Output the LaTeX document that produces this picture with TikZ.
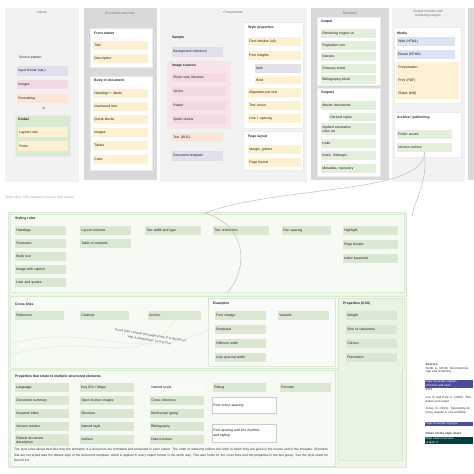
\documentclass[tikz,border=0pt]{standalone}
\usepackage{fontspec}
\setmainfont{Liberation Sans}
\usepackage{tikz}

\definecolor{panelLight}{HTML}{F2F2F2}
\definecolor{panelDark}{HTML}{D9D9D9}
\definecolor{itemYellow}{HTML}{FDF1D2}
\definecolor{itemPink}{HTML}{F3D9E3}
\definecolor{itemLav}{HTML}{E2E0EF}
\definecolor{itemPeach}{HTML}{FCE6D8}
\definecolor{itemGreen}{HTML}{E2EFDA}
\definecolor{itemBlue}{HTML}{DAE4F3}
\definecolor{groupGreen}{HTML}{D9EAD3}
\definecolor{bgGreen}{HTML}{EEF6EA}
\definecolor{boxGreen}{HTML}{DAE8D3}
\newcommand{\boxfont}{\fontsize{3.4}{4.1}\selectfont}

\begin{document}
\begin{tikzpicture}[x=1pt, y=-1pt,
    itm/.style={anchor=north west, inner sep=1.2pt, minimum height=9pt, text width=#1, align=left, font=\boxfont, text=black!90},
    yb/.style={itm=#1, fill=itemYellow}, yb/.default=48pt,
    pk/.style={itm=#1, fill=itemPink}, pk/.default=48pt,
    lv/.style={itm=#1, fill=itemLav, draw=black!12, line width=0.3pt}, lv/.default=48pt,
    pc/.style={itm=#1, fill=itemPeach}, pc/.default=48pt,
    gr/.style={itm=#1, fill=itemGreen}, gr/.default=52pt,
    bl/.style={itm=#1, fill=itemBlue}, bl/.default=55pt,
    gb/.style={itm=#1, fill=boxGreen}, gb/.default=48pt,
    wb/.style={itm=#1, fill=white, draw=black!20, line width=0.3pt}, wb/.default=62pt,
    grp/.style={fill=white, draw=black!8, line width=0.3pt},
    ttl/.style={anchor=west, inner sep=0pt, font=\boxfont\bfseries, text=black!85},
    hdr/.style={inner sep=0pt, font=\boxfont, text=black!55, align=center},
    curve/.style={draw=black!25, line width=0.5pt},
    ref/.style={anchor=north west, inner sep=0.5pt, text width=47pt, align=left, font=\fontsize{3}{3.6}\selectfont, text=black!80},
    link/.style={ref, fill=blue!45!black!70, text=white}]
  \useasboundingbox (0,0) rectangle (474,474);
  \fill[white] (0,0) rectangle (474,474);

  % top columns
  \fill[panelLight] (5,8) rectangle (79,182);
  \fill[panelDark] (84,8) rectangle (157,180);
  \fill[panelLight] (160,8) rectangle (307,182);
  \fill[panelDark] (311,8) rectangle (389,180);
  \fill[panelLight] (392,8) rectangle (465,182);
  \fill[panelDark] (468,8) rectangle (480,180);
  \node[hdr] (h1) at (42,13) {Inputs};
  \node[hdr] (h2) at (120,13) {Document structure};
  \node[hdr] (h3) at (233,13) {Components};
  \node[hdr] (h4) at (350,13) {Relations};
  \node[hdr] (h5) at (428,14) {Output formats and\\rendering targets};

  % inputs
  \node[ttl, font=\boxfont] (srcl) at (19,58) {Source pattern};
  \node[lv] (src1) at (17,66) {Input format (opt.)};
  \node[pk] (src2) at (17,80) {Images};
  \node[pc] (src3) at (17,94) {Formatting};
  \node[hdr, text=black!80] (or) at (44,109) {or};
  \filldraw[fill=groupGreen, draw=black!8] (15,115) rectangle (70,156);
  \node[ttl] (glob) at (18,119.5) {Global};
  \node[yb=47pt, minimum height=10pt] (glob1) at (18,127) {Layout rules};
  \node[yb=47pt, minimum height=10pt] (glob2) at (18,141) {Fonts};

  % document structure
  \filldraw[grp] (90,28) rectangle (152,67);
  \node[ttl] (fm) at (94,33) {Front matter};
  \node[yb=52pt] (fm1) at (93,41) {Title};
  \node[yb=52pt] (fm2) at (93,54) {Description};
  \filldraw[grp] (90,76) rectangle (152,170);
  \node[ttl] (body) at (94,81) {Body of document};
  \node[yb=52pt] (b1) at (93,89) {Headings + labels};
  \node[yb=52pt] (b2) at (93,102) {Numbered lists};
  \node[yb=52pt] (b3) at (93,115) {Quote blocks};
  \node[yb=52pt] (b4) at (93,128) {Images};
  \node[yb=52pt] (b5) at (93,141) {Tables};
  \node[yb=52pt] (b6) at (93,155) {Code};

  % components
  \node[ttl] (smp) at (172,38) {Sample};
  \node[lv] (smp1) at (172,47) {Background reference};
  \fill[itemPink!70] (167,61) rectangle (231,129);
  \node[ttl] (imgs) at (172,66) {Image sources};
  \node[pk=51pt] (img1) at (172,73) {Photo sets, libraries};
  \node[pk=51pt] (img2) at (172,87) {Vector};
  \node[pk=51pt] (img3) at (172,101) {Raster};
  \node[pk=51pt] (img4) at (172,115) {Sprite sheets};
  \node[pc] (txt) at (172,133) {Text (DOC)};
  \node[lv] (tpl) at (172,151) {Document template};

  \filldraw[grp] (243,22) rectangle (303,128);
  \node[ttl] (sty) at (248,28) {Style properties};
  \node[yb=50pt] (sty1) at (248,37) {Font families (all)};
  \node[yb=50pt] (sty2) at (248,51) {Font weights};
  \node[lv=43pt, minimum height=8pt] (sty3) at (255,64) {Italic};
  \node[yb=43pt, minimum height=8pt] (sty4) at (255,76) {Bold};
  \node[yb=50pt] (sty5) at (248,88) {Alignment per text};
  \node[yb=50pt] (sty6) at (248,101) {Text colour};
  \node[yb=50pt] (sty7) at (248,114) {Line + spacing};
  \filldraw[grp] (243,131) rectangle (303,170);
  \node[ttl] (lay) at (248,137) {Page layout};
  \node[yb=50pt] (lay1) at (248,145) {Margin, gutters};
  \node[yb=50pt] (lay2) at (248,158) {Page format};

  % relations
  \filldraw[grp] (317,17) rectangle (380,85);
  \node[ttl] (out) at (321,22) {Output};
  \node[gr] (out1) at (321,29) {Rendering engine ux};
  \node[gr] (out2) at (321,41) {Pagination rule};
  \node[gr] (out3) at (321,52) {Indexes};
  \node[gr] (out4) at (321,64) {Glossary terms};
  \node[gr] (out5) at (321,75) {Bibliography block};
  \filldraw[grp] (317,88) rectangle (380,176);
  \node[ttl] (outs) at (321,93) {Outputs};
  \node[gr] (outs1) at (321,101) {Master documents};
  \node[gr=44pt, minimum height=8pt] (outs2) at (329,113) {Derived styles};
  \node[gr, minimum height=12pt] (outs3) at (321,123) {Applied annotation\\rules set};
  \node[gr] (outs4) at (321,139) {Links};
  \node[gr] (outs5) at (321,151) {Index, Sitemaps};
  \node[gr] (outs6) at (321,164) {Metadata, repository};

  % output formats
  \filldraw[grp] (394,27) rectangle (461,103);
  \node[ttl] (media) at (397,33) {Media};
  \node[bl] (web) at (397,37) {Web (HTML)};
  \node[bl] (epub) at (397,50) {Ebook (EPUB)};
  \fill[itemYellow] (396,62) rectangle (459,99);
  \node[yb=55pt] (pres) at (397,63) {Presentation};
  \node[yb=55pt] (print) at (397,76) {Print (PDF)};
  \node[yb=55pt] (slides) at (397,89) {Slides (MD)};
  \filldraw[grp] (394,112) rectangle (461,157);
  \node[ttl] (arch) at (397,118) {Archive / publishing};
  \node[gr] (pubrec) at (397,130) {Public record};
  \node[gr] (pubarc) at (397,143) {Version archive};

  % bottom part
  \node[ttl, font=\boxfont, text=black!35] (cap) at (5,198) {Style rules: links between sources and output};
  \filldraw[fill=bgGreen, draw=groupGreen] (8,212) rectangle (406,467);
  \filldraw[fill=bgGreen!60, draw=groupGreen] (10,214) rectangle (404,292);
  \node[ttl] (styl) at (15,219) {Styling rules};
  \node[gb] (s1) at (15,226) {Headings};
  \node[gb] (s2) at (15,239) {Footnotes};
  \node[gb] (s3) at (15,252) {Body text};
  \node[gb] (s4) at (15,265) {Image with caption};
  \node[gb] (s5) at (15,278) {Lists and quotes};
  \node[gb] (s6) at (80,226) {Layout columns};
  \node[gb] (s7) at (80,239) {Table of contents};
  \node[gb=53pt] (s8) at (145,226) {Text width and type};
  \node[gb=53pt] (s9) at (213,226) {Text orientation};
  \node[gb=46pt] (s10) at (282,226) {Pair spacing};
  \node[gb=52pt] (s11) at (343,226) {Highlight};
  \node[gb=52pt] (s12) at (343,240) {Page breaks};
  \node[gb=52pt] (s13) at (343,254) {Index keywords};

  \filldraw[fill=bgGreen!60, draw=groupGreen] (10,296) rectangle (404,368);
  \node[ttl] (xl) at (15,304) {Cross links};
  \node[gb=46pt] (x1) at (15,311) {Reference};
  \node[gb=46pt] (x2) at (80,311) {Citations};
  \node[gb=50pt] (x3) at (148,311) {Anchor};
  \node[hdr, text=black!75, rotate=-9, font=\fontsize{3.2}{5}\selectfont] (xnote) at (150,338) {Cross links connect the target place in a document\\with a related page or a section};
  \filldraw[fill=bgGreen!40, draw=groupGreen] (208,298) rectangle (335,366);
  \node[ttl] (ex) at (213,304) {Examples};
  \node[gb] (ex1) at (215,311) {Font change};
  \node[gb] (ex2) at (215,325) {Emphasis};
  \node[gb] (ex3) at (215,339) {Different width};
  \node[gb] (ex4) at (215,353) {Line spacing width};
  \node[gb] (ex5) at (278,311) {Variants};
  \filldraw[fill=bgGreen!80!groupGreen, draw=groupGreen] (338,298) rectangle (402,460);
  \node[ttl] (css) at (343,304) {Properties (CSS)};
  \node[gb] (css1) at (346,311) {Weight};
  \node[gb] (css2) at (346,325) {Size of characters};
  \node[gb] (css3) at (346,339) {Colours};
  \node[gb] (css4) at (346,353) {Placement};

  \filldraw[fill=bgGreen!60, draw=groupGreen] (10,370) rectangle (335,466);
  \node[ttl] (mp) at (15,377) {Properties that relate to multiple structured elements};
  \node[gb=51pt] (m1) at (15,383) {Language};
  \node[gb=51pt] (m2) at (15,396) {Document summary};
  \node[gb=51pt] (m3) at (15,409) {Keyword index};
  \node[gb=51pt] (m4) at (15,422) {Version number};
  \node[gb=51pt, minimum height=12pt] (m5) at (15,434) {Default document\\description};
  \node[gb=51pt] (m6) at (80,383) {Key ID's / Maps};
  \node[gb=51pt] (m7) at (80,396) {Open licence images};
  \node[gb=51pt] (m8) at (80,409) {Structure};
  \node[gb=51pt] (m9) at (80,422) {Named style};
  \node[gb=51pt] (m10) at (80,435) {Authors};
  \node[gb=51pt, fill=bgGreen!40] (m11) at (150,383) {Named scale};
  \node[gb=51pt] (m12) at (150,396) {Cross reference};
  \node[gb=51pt] (m13) at (150,409) {Multi-script typing};
  \node[gb=51pt] (m14) at (150,422) {Bibliography};
  \node[gb=51pt] (m15) at (150,435) {Data licences};
  \node[gb=50pt] (m16) at (213,383) {Rating};
  \node[gb=48pt] (m17) at (280,383) {Formats};
  \node[wb, minimum height=16pt] (m18) at (212,397) {Font colour spacing};
  \node[wb, minimum height=18pt] (m19) at (212,424) {Font spacing and line rhythms\\and styling};
  \node[anchor=north west, inner sep=0pt, text width=318pt, align=left, font=\fontsize{3.2}{5.5}\selectfont, text=black!80] (foot) at (14,448) {The style rules above describe how the elements of a document are formatted and presented in each output. The order of elements follows the order in which they are given in the source and in the template. Elements that are not styled take the default style of the document template, which is applied in every output format in the same way. This also holds for the cross links and the properties in the last group. See the style sheet for the full list.};

  % references
  \node[ref] (r1) at (425,363) {\textbf{Sources}\\Smith, A. (2019). Document design and rendering.};
  \node[link] (r1l) at (425,380) {https://example.org/doc\\structure-and-style};
  \node[ref] (r1y) at (425,388) {2019};
  \node[ref] (r2) at (425,396) {Lee, B. and Park, C. (2020). Templates and output};
  \node[ref] (r3) at (425,407) {Jones, D. (2021). Typesetting for many outputs in one workflow.};
  \node[link] (r3l) at (425,422) {https://example.org/type};
  \node[ref] (r4) at (425,432) {\textbf{Notes on the style sheet}};
  \node[link, fill=teal!50!black] (r4l) at (425,437) {Style sheet overview\\version 3};

  % connectors
  \coordinate (stylTop) at (205,213);
  \coordinate (panTopR) at (412,216);
  \coordinate (stylBot) at (228,292);
  \coordinate (waveL) at (10,345);
  \coordinate (waveR) at (208,330);
  \draw[curve] (pubarc.south) .. controls (424,195) and (280,185) .. (stylTop);
  \draw[curve] (pubarc.south) .. controls (428,185) and (414,200) .. (panTopR);
  \draw[curve] (stylTop) .. controls (245,225) and (250,265) .. (stylBot);
  \draw[curve, draw=groupGreen!80] (waveL) .. controls (80,320) and (140,365) .. (waveR);
  \draw[curve, draw=groupGreen!80] (10,355) .. controls (90,330) and (140,372) .. (x3.south);
\end{tikzpicture}
\end{document}
